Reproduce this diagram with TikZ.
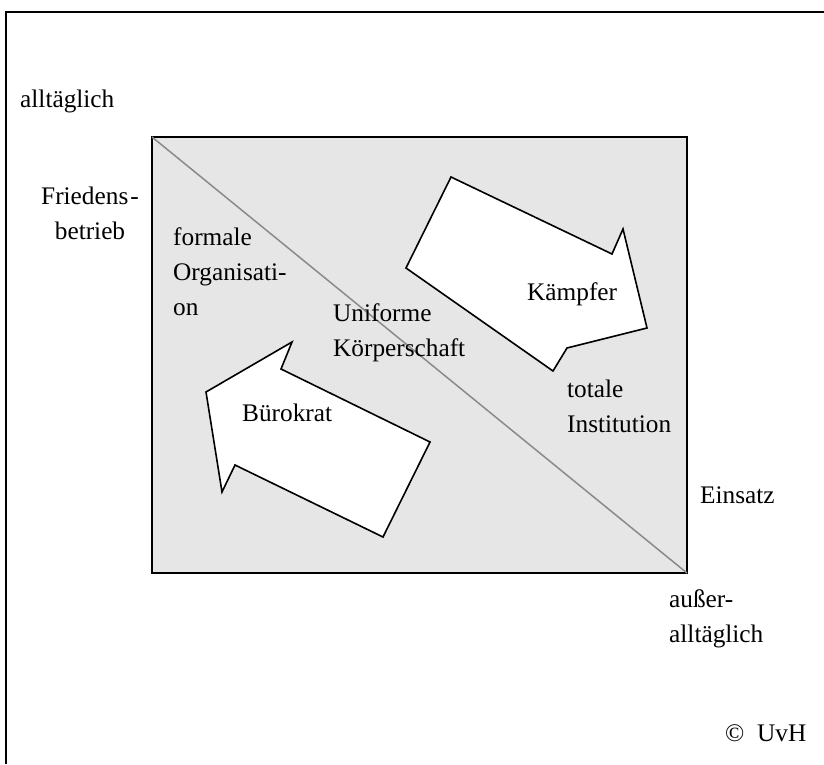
\documentclass[tikz,border=0pt]{standalone}
\usepackage{fontspec}
\setmainfont{Liberation Serif}
\definecolor{boxgray}{HTML}{E6E6E6}
\definecolor{diaggray}{HTML}{8A8A8A}
\begin{document}
\begin{tikzpicture}[x=1pt,y=-1pt,
  lbl/.style={inner sep=0pt,anchor=base west,font=\fontsize{25.3}{35}\selectfont},
  arrowshape/.style={draw=black,fill=white,line width=1.6pt,line join=miter}]
\useasboundingbox (0,0) rectangle (824,764);
% outer frame (only left and top visible)
\draw[line width=1.6pt] (6,764) -- (6,12) -- (824,12);
% inner box
\draw[line width=2pt,fill=boxgray] (152,137) rectangle (687,573);
\draw[diaggray,line width=1.5pt] (152,137) -- (687,573);
% arrows
\draw[arrowshape] (451,177) -- (612,254) -- (623,229) -- (647,328) -- (567,348) -- (553,371) -- (406,268) -- cycle;
\draw[arrowshape] (292,342) -- (281,369) -- (430,442) -- (383,537) -- (235,465) -- (222,492) -- (206,392) -- cycle;
% labels (multi-line nodes: base = baseline of last line)
\node[lbl] (alltag) at (20,107) {alltäglich};
\node[lbl,anchor=base,align=center] (frieden) at (90,239) {Friedens\kern2pt-\\betrieb};
\node[lbl,align=left] (formal) at (173,315) {formale\\Organisati-\\on};
\node[lbl,align=left] (uniform) at (333,356) {Uniforme\\Körperschaft};
\node[lbl] (kaempfer) at (527,300) {Kämpfer};
\node[lbl] (buero) at (242,421) {Bürokrat};
\node[lbl,align=left] (total) at (567,432) {totale\\Institution};
\node[lbl] (einsatz) at (700,503) {Einsatz};
\node[lbl,align=left] (ausser) at (669,642) {außer-\\alltäglich};
\node[lbl] (copy) at (725,741) {©\ \ UvH};
\end{tikzpicture}
\end{document}
